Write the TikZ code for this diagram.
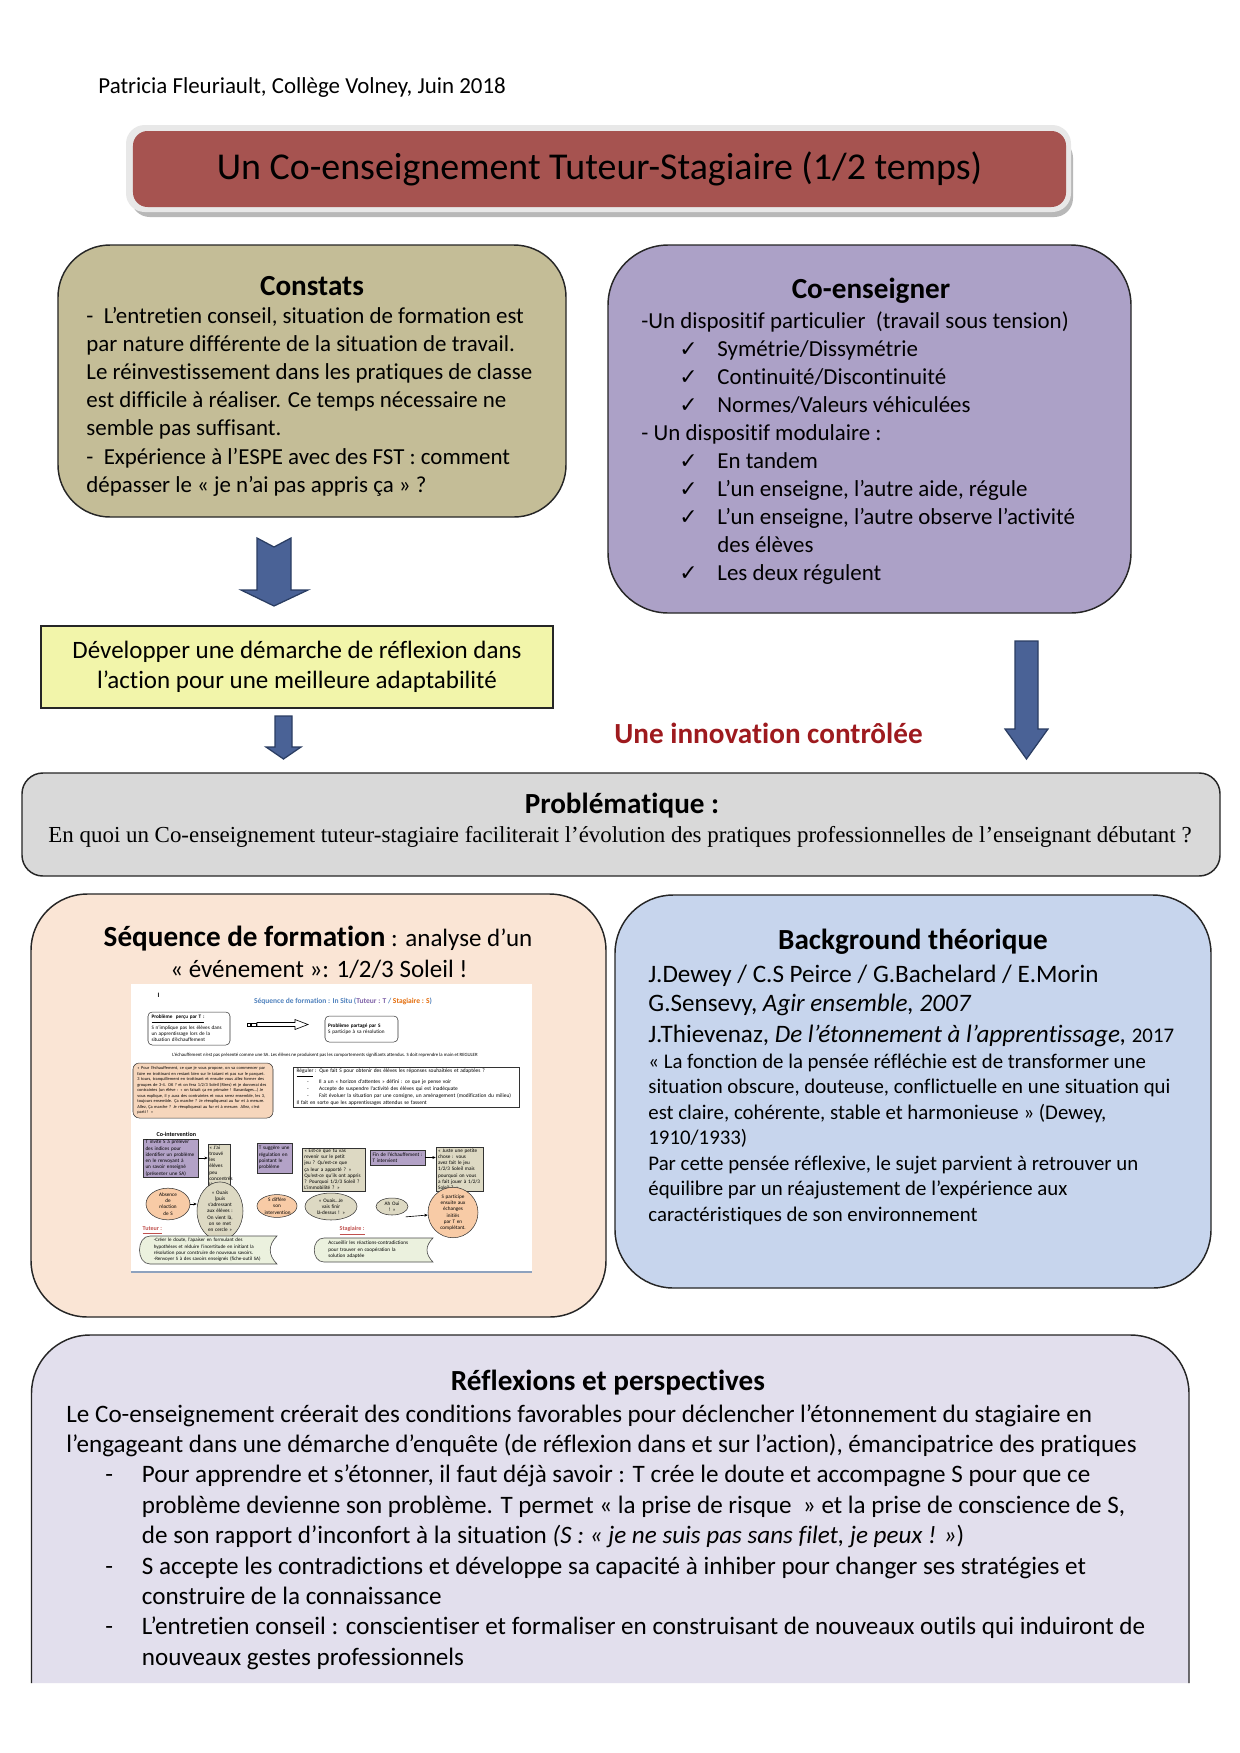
\documentclass[tikz,border=0pt]{standalone}
\usepackage{fontspec}
\setmainfont{Carlito}[Ligatures=NoCommon]
\newfontfamily\timesf{Liberation Serif}
\newfontfamily\symf{DejaVu Sans}
\usetikzlibrary{shapes.geometric,arrows.meta}
\definecolor{titlered}{HTML}{A65350}
\definecolor{tancol}{HTML}{C4BD97}
\definecolor{lavcol}{HTML}{ACA1C7}
\definecolor{yelcol}{HTML}{F2F5AA}
\definecolor{arrcol}{HTML}{4A6296}
\definecolor{arrline}{HTML}{2A3D62}
\definecolor{innovred}{HTML}{9E1A1E}
\definecolor{probgray}{HTML}{D9D9D9}
\definecolor{peach}{HTML}{FAE5D5}
\definecolor{bgblue}{HTML}{C7D5ED}
\definecolor{reflcol}{HTML}{E2DFED}
\definecolor{miniblue}{HTML}{4F81BD}
\definecolor{minipurp}{HTML}{7F62A8}
\definecolor{miniorange}{HTML}{E46C0A}
\definecolor{minipbox}{HTML}{B3A2C7}
\definecolor{minitbox}{HTML}{DDD9C3}
\definecolor{miniell}{HTML}{F8CBA6}
\definecolor{minipeach}{HTML}{F6D6BC}
\definecolor{miniscroll}{HTML}{EBF1DE}
\definecolor{minired}{HTML}{C0504D}
\definecolor{miniline}{HTML}{8EA2BE}
\begin{document}
\begin{tikzpicture}[x=0.48pt,y=-0.48pt,
  bigbox/.style={draw=black!85, line width=0.7pt, inner sep=0pt},
  body/.style={anchor=base west, inner sep=0pt, font=\fontsize{11}{13.4}\selectfont},
  bodyS/.style={anchor=base west, inner sep=0pt, font=\fontsize{10}{12.2}\selectfont},
  bodyL/.style={anchor=base west, inner sep=0pt, font=\fontsize{12.05}{14.6}\selectfont},
  head/.style={anchor=base, inner sep=0pt, font=\fontsize{14}{17}\selectfont\bfseries},
  chk/.style={anchor=base west, inner sep=0pt, font=\symf\fontsize{10.5}{12}\selectfont},
  bluearrow/.style={fill=arrcol, draw=arrline, line width=0.6pt, line join=miter},
  mini/.style={inner sep=0.6pt, align=left, font=\fontsize{2.5}{3}\selectfont, execute at begin node={\hyphenpenalty=10000\exhyphenpenalty=10000\relax}},
  minibox/.style={mini, draw=black!80, line width=0.25pt},
  miniarr/.style={-{Stealth[length=1.6pt,width=1.4pt]}, line width=0.3pt}
]
\useasboundingbox (0,0) rectangle (1240,1753);
\fill[white] (0,0) rectangle (1240,1753);

% header
\node[body] (auth) at (98,93) {Patricia Fleuriault, Collège Volney, Juin 2018};

% title
\fill[black!28, rounded corners=9pt] (131,139) rectangle (1073,217);
\fill[black!9, rounded corners=9pt] (126,125) rectangle (1071,212);
\node[fill=titlered, rounded corners=7pt, inner sep=0pt, minimum width=447.84pt, minimum height=36.48pt] (titlebox) at (599.5,169) {};
\node[anchor=base, inner sep=0pt, font=\fontsize{18.2}{22}\selectfont] (titletext) at (599.5,179) {Un Co-enseignement Tuteur-Stagiaire (1/2 temps)};

% Constats
\node[bigbox, fill=tancol, rounded corners=25pt, minimum width=243.84pt, minimum height=130.56pt] (constats) at (312,381) {};
\node[head] (constatsT) at (312,295) {Constats};
\foreach \t [count=\i] in {{-\ \ L’entretien conseil, situation de formation est},{par nature différente de la situation de travail.},{Le réinvestissement dans les pratiques de classe},{est difficile à réaliser. Ce temps nécessaire ne},{semble pas suffisant.},{-\ \ Expérience à l’ESPE avec des FST : comment},{dépasser le « je n’ai pas appris ça » ?}}
  \node[body] (cl\i) at (86,{323+28.2*(\i-1)}) {\t};

% Co-enseigner
\node[bigbox, fill=lavcol, rounded corners=29pt, minimum width=251.04pt, minimum height=176.64pt] (coens) at (869.5,429) {};
\node[head] (coensT) at (871,298) {Co-enseigner};
\node[body] (e1) at (641,328) {-Un dispositif particulier\ \ (travail sous tension)};
\node[body] (e2) at (717,356) {Symétrie/Dissymétrie};
\node[body] (e3) at (717,384) {Continuité/Discontinuité};
\node[body] (e4) at (717,412) {Normes/Valeurs véhiculées};
\node[body] (e5) at (641,440) {- Un dispositif modulaire :};
\node[body] (e6) at (717,468) {En tandem};
\node[body] (e7) at (717,496) {L’un enseigne, l’autre aide, régule};
\node[body] (e8) at (717,524) {L’un enseigne, l’autre observe l’activité};
\node[body] (e9) at (717,552) {des élèves};
\node[body] (e10) at (717,580) {Les deux régulent};
\foreach \y/\n in {356/2,384/3,412/4,468/6,496/7,524/8,580/10}
  \node[chk] (k\n) at (679,\y) {✓};

% arrows
\path[bluearrow] (257,538) -- (274,547) -- (291,538) -- (291,590) -- (308,590) -- (274,606) -- (241,590) -- (257,590) -- cycle;
\node[bigbox, fill=yelcol, minimum width=245.76pt, minimum height=39.36pt] (yel) at (297,667) {};
\node[anchor=base, inner sep=0pt, font=\fontsize{12}{14.6}\selectfont] (yel1) at (297,658) {Développer une démarche de réflexion dans};
\node[anchor=base, inner sep=0pt, font=\fontsize{12}{14.6}\selectfont] (yel2) at (297,688) {l’action pour une meilleure adaptabilité};
\path[bluearrow] (275,716) -- (292,716) -- (292,747) -- (301,747) -- (283.5,759) -- (266,747) -- (275,747) -- cycle;
\path[bluearrow] (1015,641) -- (1038,641) -- (1038,729) -- (1048,729) -- (1026.5,759) -- (1005,729) -- (1015,729) -- cycle;
\node[anchor=base, inner sep=0pt, font=\fontsize{14}{17}\selectfont\bfseries, text=innovred] (innov) at (768.5,743) {Une innovation contrôlée};

% Problematique
\node[bigbox, fill=probgray, rounded corners=10pt, minimum width=575.04pt, minimum height=49.44pt] (prob) at (621,824.5) {};
\node[head] (probT) at (622,813) {Problématique :};
\node[anchor=base, inner sep=0pt, font=\timesf\fontsize{11}{12.5}\selectfont] (probQ) at (620,842) {En quoi un Co-enseignement tuteur-stagiaire faciliterait l’évolution des pratiques professionnelles de l’enseignant débutant ?};

% Sequence
\node[bigbox, fill=peach, rounded corners=27pt, minimum width=276pt, minimum height=203.04pt] (seq) at (318.5,1105.5) {};
\node[anchor=base, inner sep=0pt, font=\fontsize{12}{14.6}\selectfont] (seqT1) at (318,946) {{\fontsize{14}{17}\selectfont\bfseries Séquence de formation} : analyse d’un};
\node[anchor=base, inner sep=0pt, font=\fontsize{12}{14.6}\selectfont] (seqT2) at (319,977) {« événement »: 1/2/3 Soleil !};

% mini picture
\node[fill=white, inner sep=0pt, minimum width=192.48pt, minimum height=138.24pt] (img) at (331.5,1128) {};
\draw[miniline, line width=1pt] (img.south west) -- (img.south east);
\node[mini, anchor=west, font=\fontsize{3.2}{3.5}\selectfont\bfseries] (mI) at (156,995) {I};
\node[inner sep=0pt, font=\fontsize{3.6}{4}\selectfont\bfseries] (mtitle) at (343,1001) {\color{miniblue}Séquence de formation : In Situ (\color{minipurp}Tuteur : T \color{miniblue}/ \color{miniorange}Stagiaire : S\color{miniblue})};
\node[minibox, rounded corners=2pt, minimum width=39.36pt, minimum height=15.84pt, text width=36pt] (mb1) at (189,1028.5) {\underline{\textbf{Problème\ \ perçu par T :}}\\S n’implique pas les élèves dans un apprentissage lors de la situation d’échauffement};
\node[minibox, rounded corners=2pt, minimum width=35.04pt, minimum height=12.48pt, text width=32pt] (mb2) at (361.5,1029) {\textbf{Problème partagé par S}\\S participe à sa résolution};
\draw[line width=0.2pt] (247,1023) rectangle (250,1026) (251.5,1023) rectangle (256,1026);
\draw[line width=0.3pt, fill=white] (257,1022.5) -- (295,1022.5) -- (295,1019.5) -- (308,1024.5) -- (295,1029.5) -- (295,1026.5) -- (257,1026.5) -- cycle;
\node[mini, font=\fontsize{2.3}{2.6}\selectfont] (mline) at (325,1055) {L’échauffement n’est pas présenté comme une SA. Les élèves ne produisent pas les comportements signifiants attendus. S doit reprendre la main et REGULER};
\node[minibox, fill=minipeach, rounded corners=3pt, minimum width=67.2pt, minimum height=26.4pt, text width=63pt, font=\fontsize{2.1}{2.65}\selectfont] (mpeach) at (203,1090.5) {« Pour l’échauffement, ce que je vous propose, on va commencer par faire en trottinant en restant bien sur le tatami et pas sur le parquet. 3 tours, tranquillement en trottinant et ensuite vous allez former des groupes de 3-4. OK ? et on fera 1/2/3 Soleil (Rires) et je donnerai des contraintes (un élève : « on faisait ça en primaire ! Bavardages…) Je vous explique, il y aura des contraintes et vous serez ensemble, les 3, toujours ensemble. Ça marche ? Je réexpliquerai au fur et à mesure. Allez, Ça marche ? Je réexpliquerai au fur et à mesure. Allez, c’est parti ! »};
\node[minibox, fill=white, minimum width=108.48pt, minimum height=19.2pt, text width=105pt, font=\fontsize{2.6}{3.3}\selectfont] (mreg) at (406,1087) {\underline{Réguler} : Que fait S pour obtenir des élèves les réponses souhaitées et adaptées ?\\\hspace*{5pt}-\hspace{5pt}Il a un « horizon d’attentes » défini : ce que je pense voir\\\hspace*{5pt}-\hspace{5pt}Accepte de suspendre l’activité des élèves qui est inadéquate\\\hspace*{5pt}-\hspace{5pt}Fait évoluer la situation par une consigne, un aménagement (modification du milieu)\\Il fait en sorte que les apprentissages attendus se fassent};
\node[mini, anchor=west, font=\fontsize{2.9}{3}\selectfont\bfseries] (mco) at (155,1134) {Co-intervention};
\node[minibox, fill=minipbox, minimum width=26.4pt, minimum height=14.4pt, text width=24pt, anchor=center] (mp1) at (170.5,1158) {T invite S à prélever des indices pour identifier un problème en le renvoyant à un savoir enseigné (présenter une SA)};
\node[minibox, fill=minitbox, minimum width=10.56pt, minimum height=15.36pt, text width=9.3pt] (mt1) at (219,1166) {« J’ai trouvé les élèves peu concentrés là ! »};
\node[minibox, fill=minipbox, minimum width=16.8pt, minimum height=14.4pt, text width=15pt] (mp2) at (274.5,1158) {T suggère une régulation en pointant le problème};
\node[minibox, fill=minitbox, minimum width=30.24pt, minimum height=18.72pt, text width=28pt] (mt2) at (333.5,1169.5) {« Est-ce que tu vas revenir sur le petit jeu ? Qu’est-ce que ça leur a apporté ? » Qu’est-ce qu’ils ont appris ? Pourquoi 1/2/3 Soleil ? L’immobilité ? »};
\node[minibox, fill=minipbox, minimum width=26.4pt, minimum height=7.2pt, text width=24pt] (mp3) at (397.5,1157.5) {Fin de l’échauffement : T intervient};
\node[minibox, fill=minitbox, minimum width=22.56pt, minimum height=18.24pt, text width=20.5pt] (mt3) at (459.5,1169) {« Juste une petite chose : vous avez fait le jeu 1/2/3 Soleil mais pourquoi on vous a fait jouer à 1/2/3 Soleil ? »};
\node[minibox, ellipse, fill=miniell, minimum width=21.12pt, minimum height=8.64pt, text width=11pt, align=center, inner sep=0pt] (me1) at (168,1204) {Absence de réaction de S};
\node[minibox, ellipse, fill=minitbox, minimum width=22.08pt, minimum height=20.16pt, text width=13pt, align=center, inner sep=0pt] (me2) at (220,1211) {« Ouais (puis s’adressant aux élèves : On vient là, on se met en cercle »};
\node[minibox, ellipse, fill=miniell, minimum width=19.2pt, minimum height=8.64pt, text width=12pt, align=center, inner sep=0pt] (me3) at (277,1206) {S diffère son intervention};
\node[minibox, ellipse, fill=minitbox, minimum width=24.96pt, minimum height=12.96pt, text width=15pt, align=center, inner sep=0pt] (me4) at (331,1206.5) {« Ouais…Je vais finir là-dessus ! »};
\node[minibox, ellipse, fill=minitbox, minimum width=15.36pt, minimum height=8.16pt, text width=8pt, align=center, inner sep=0pt] (me5) at (392,1206.5) {Ah Oui ! »};
\node[minibox, ellipse, fill=miniell, minimum width=24pt, minimum height=23.52pt, text width=14pt, align=center, inner sep=0pt] (me6) at (453,1212.5) {S participe ensuite aux échanges initiés par T en complétant.};
\draw[miniarr] (mp1.east) -- (mt1.west |- mp1.east);
\draw[miniarr] (mp3.east) -- (mt3.west |- mp3.east);
\draw[miniarr] (me1.east) -- (me2.west |- me1.east);
\draw[miniarr] ([xshift=1pt,yshift=-2pt]me5.south east) -- (me6.west |- 0,1215);
\node[mini, anchor=west, text=minired, font=\fontsize{2.9}{3}\selectfont\bfseries] (mtut) at (141,1231) {\underline{Tuteur :}};
\node[mini, anchor=west, text=minired, font=\fontsize{2.9}{3}\selectfont\bfseries] (mstag) at (338,1231) {\underline{Stagiaire :}};
\path[draw=black!70, line width=0.3pt, fill=miniscroll] (150,1236) -- (277,1236) .. controls (268,1245) and (268,1255) .. (277,1264) -- (150,1264) .. controls (136,1264) and (136,1236) .. (150,1236) -- cycle;
\node[mini, text width=52pt, font=\fontsize{2.4}{3}\selectfont] (ms1) at (208,1250) {-Créer le doute, l’apaiser en formulant des hypothèses et réduire l’incertitude en initiant la résolution pour construire de nouveaux savoirs. -Renvoyer S à des savoirs enseignés (fiche-outil SA)};
\path[draw=black!70, line width=0.3pt, fill=miniscroll] (324,1238) -- (433,1238) .. controls (425,1246) and (425,1254) .. (433,1262) -- (324,1262) .. controls (311,1262) and (311,1238) .. (324,1238) -- cycle;
\node[mini, text width=40pt, font=\fontsize{2.5}{3.1}\selectfont] (ms2) at (370,1250) {Accueillir les réactions-contradictions pour trouver en coopération la solution adaptée};

% Background
\node[bigbox, fill=bgblue, rounded corners=28pt, minimum width=286.08pt, minimum height=188.64pt] (bg) at (913,1091.5) {};
\node[head] (bgT) at (913,949) {Background théorique};
\node[bodyL] (b1) at (648,982) {J.Dewey / C.S Peirce / G.Bachelard / E.Morin};
\node[bodyL] (b2) at (648,1011) {G.Sensevy, \textit{Agir ensemble, 2007}};
\node[bodyL] (b3) at (648,1042) {J.Thievenaz, \textit{De l’étonnement à l’apprentissage,} {\fontsize{10}{12}\selectfont 2017}};
\foreach \t [count=\i] in {{« La fonction de la pensée réfléchie est de transformer une},{situation obscure, douteuse, conflictuelle en une situation qui},{est claire, cohérente, stable et harmonieuse » (Dewey,},{1910/1933)},{Par cette pensée réflexive, le sujet parvient à retrouver un},{équilibre par un réajustement de l’expérience aux},{caractéristiques de son environnement}}
  \node[bodyS] (bq\i) at (648,{1068+25.5*(\i-1)}) {\t};

% Reflexions
\path[fill=reflcol, draw=black!85, line width=0.7pt, rounded corners=28pt] (31.5,1683) -- (31.5,1335) -- (1189,1335) -- (1189,1683);
\node[head] (rT) at (608,1390) {Réflexions et perspectives};
\node[bodyL] (r1) at (66,1422) {Le Co-enseignement créerait des conditions favorables pour déclencher l’étonnement du stagiaire en};
\node[bodyL] (r2) at (66,1452.4) {l’engageant dans une démarche d’enquête (de réflexion dans et sur l’action), émancipatrice des pratiques};
\node[bodyL] (r3) at (141.5,1482.8) {Pour apprendre et s’étonner, il faut déjà savoir : T crée le doute et accompagne S pour que ce};
\node[bodyL] (r4) at (141.5,1513.2) {problème devienne son problème. T permet « la prise de risque\ \ » et la prise de conscience de S,};
\node[bodyL] (r5) at (141.5,1543.6) {de son rapport d’inconfort à la situation \textit{(S : « je ne suis pas sans filet, je peux ! »})};
\node[bodyL] (r6) at (141.5,1574) {S accepte les contradictions et développe sa capacité à inhiber pour changer ses stratégies et};
\node[bodyL] (r7) at (141.5,1604.4) {construire de la connaissance};
\node[bodyL] (r8) at (141.5,1634.8) {L’entretien conseil : conscientiser et formaliser en construisant de nouveaux outils qui induiront de};
\node[bodyL] (r9) at (141.5,1665.2) {nouveaux gestes professionnels};
\foreach \y/\n in {1482.8/1,1574/2,1634.8/3}
  \node[bodyL] (rd\n) at (105,\y) {-};
\end{tikzpicture}
\end{document}
